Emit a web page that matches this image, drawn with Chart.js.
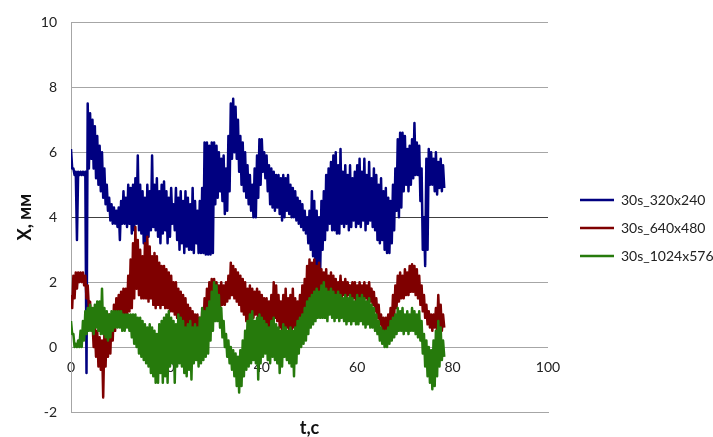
<!DOCTYPE html>
<html>
<head>
<meta charset="utf-8">
<script src="https://cdn.jsdelivr.net/npm/chart.js@4.4.1/dist/chart.umd.min.js"></script>
<style>
  html, body { margin: 0; padding: 0; background: #fff; }
  #wrap { width: 713px; height: 437px; }
</style>
</head>
<body>
<div id="wrap"><canvas id="chart" width="713" height="437"></canvas></div>
<script>
// each series: upper and lower swing of the noisy trace every 0.5 s
const STEP = 0.5;
const seriesNames = ['30s_320x240', '30s_640x480', '30s_1024x576'];
const seriesColors = ['#000080', '#7f0000', '#267a0c'];

const blueHi = [
  6.1, 5.5, 5.4, 5.4, 5.4, 5.4, 5.4, 7.5, 7.2, 7.0,
  6.8, 6.5, 6.2, 6.0, 5.5, 5.0, 4.6, 4.4, 4.3, 4.2,
  4.3, 4.5, 4.8, 4.6, 5.0, 4.9, 5.0, 5.2, 5.9, 5.0,
  4.8, 4.6, 5.0, 4.8, 5.9, 5.0, 5.2, 4.8, 5.0, 5.1,
  4.8, 4.6, 4.9, 4.4, 4.9, 4.6, 4.8, 4.5, 4.8, 4.6,
  4.4, 4.9, 4.5, 4.2, 4.5, 4.9, 6.3, 6.3, 6.2, 6.3,
  6.3, 6.2, 6.0, 5.8, 5.9, 5.5, 6.5, 7.5, 7.65, 7.4,
  7.0, 6.5, 6.3, 6.0, 5.6, 5.3, 5.0, 5.5, 5.9, 6.4,
  6.4, 6.0, 5.9, 5.6, 5.5, 5.4, 5.3, 5.3, 5.2, 5.3,
  5.2, 5.3, 5.0, 4.9, 4.8, 4.6, 4.5, 4.4, 4.2, 4.0,
  4.2, 4.8, 4.5, 4.2, 4.0, 4.5, 4.8, 5.3, 5.5, 5.7,
  5.9, 6.0, 5.6, 6.1, 5.4, 5.6, 5.3, 5.6, 5.2, 5.4,
  5.6, 5.8, 5.4, 5.8, 5.3, 5.7, 5.2, 5.5, 5.3, 5.0,
  5.2, 4.8, 4.9, 4.6, 4.5, 5.0, 5.5, 6.4, 6.6, 6.6,
  6.5, 6.1, 6.2, 6.4, 6.9, 6.3, 6.2, 5.5, 4.0, 5.8,
  6.1, 6.0, 5.8, 6.0, 5.7, 5.8, 5.6
];
const blueLo = [
  5.5, 5.3, 3.3, 5.3, 5.3, 5.3, -0.8, 5.5, 5.8, 5.5,
  5.2, 5.0, 4.8, 4.6, 4.4, 4.2, 3.9, 3.8, 3.8, 3.7,
  3.3, 3.8, 3.8, 3.7, 3.8, 3.5, 3.6, 3.8, 3.6, 3.5,
  3.2, 2.8, 3.4, 3.6, 3.7, 3.6, 3.4, 3.2, 3.5, 3.6,
  3.2, 3.4, 3.8, 3.6, 3.3, 3.0, 3.2, 2.9, 3.1, 3.0,
  3.0, 2.9, 3.2, 2.9, 2.9, 2.9, 2.85, 2.85, 2.85, 2.9,
  4.4, 4.6, 4.8, 4.5, 4.1, 4.2, 4.8, 5.8, 6.0, 5.8,
  5.4, 5.0, 4.8, 4.6, 4.4, 4.2, 4.0, 4.0, 4.6, 5.0,
  5.4, 5.2, 4.8, 4.4, 4.3, 4.2, 4.3, 4.1, 3.9, 4.0,
  4.2, 4.1, 4.0, 4.0, 3.9, 3.8, 3.7, 3.6, 3.5, 3.2,
  3.0, 2.8, 2.5, 2.3, 2.4, 3.0, 3.3, 3.6, 3.8, 3.6,
  3.6, 3.5, 3.5, 3.8, 3.7, 3.8, 3.6, 3.7, 3.9, 3.7,
  3.8, 3.7, 3.9, 3.6, 3.8, 3.9, 3.7, 3.6, 3.3, 3.2,
  3.3, 3.0, 2.9, 2.9, 3.2, 3.6, 4.2, 4.0, 4.3, 4.8,
  5.0, 4.8, 5.0, 5.2, 5.3, 5.3, 4.5, 3.0, 2.5, 3.0,
  5.0, 5.0, 4.8, 4.7, 4.9, 4.8, 4.9
];

const redHi = [
  1.6, 2.2, 2.3, 2.3, 2.3, 2.3, 2.2, 1.9, 1.4, 0.8,
  0.6, 0.5, 0.3, 0.2, 0.4, 0.8, 1.0, 1.0, 1.3, 1.5,
  1.6, 1.7, 1.8, 1.8, 2.2, 2.7, 3.2, 3.7, 3.3, 3.0,
  2.8, 3.2, 3.4, 3.1, 2.8, 2.9, 2.8, 2.6, 2.5, 2.5,
  2.4, 2.3, 2.2, 2.0, 2.0, 1.8, 1.7, 1.6, 1.5, 1.3,
  1.2, 1.1, 1.0, 1.0, 0.9, 1.1, 1.5, 1.8, 2.0, 2.1,
  2.1, 2.0, 1.9, 2.0, 1.9, 2.0, 2.2, 2.6, 2.5, 2.4,
  2.3, 2.2, 2.1, 2.0, 1.8, 1.9, 1.8, 1.7, 1.8, 1.7,
  1.6, 1.5, 1.5, 1.4, 1.6, 2.0, 1.9, 1.6, 1.4, 1.6,
  1.8, 1.5, 1.6, 1.8, 1.5, 1.4, 1.6, 1.9, 2.1, 2.5,
  2.7, 2.6, 2.7, 2.5, 2.6, 2.4, 2.3, 2.4, 2.2, 2.3,
  2.2, 2.1, 2.0, 2.2, 2.0, 2.1, 2.0, 1.9, 2.0, 2.0,
  1.9, 2.0, 1.9, 2.0, 1.9, 2.0, 1.8, 1.7, 1.5, 1.3,
  1.0, 0.9, 0.9, 1.0, 1.2, 1.6, 1.9, 2.2, 2.3, 2.2,
  2.4, 2.3, 2.5, 2.55, 2.5, 2.4, 2.2, 1.9, 1.6, 1.3,
  1.1, 1.0, 1.0, 1.2, 1.6, 1.3, 1.0
];
const redLo = [
  1.2, 1.5, 1.8, 2.0, 2.0, 1.9, 1.5, 1.2, 0.6, 0.0,
  -0.3, -0.6, -0.7, -1.55, -0.6, -0.3, -0.2, 0.2, 0.5, 0.8,
  0.8, 0.9, 0.9, 1.0, 1.1, 1.2, 1.5, 1.8, 1.6, 1.5,
  1.5, 1.5, 1.4, 1.5, 1.3, 1.2, 1.3, 1.2, 1.3, 1.2,
  1.2, 1.1, 1.1, 1.0, 0.9, 0.9, 0.7, 0.6, 0.5, 0.5,
  0.4, 0.3, 0.3, 0.3, 0.3, 0.4, 0.6, 0.9, 1.2, 1.3,
  1.4, 1.3, 1.2, 1.3, 1.3, 1.4, 1.5, 1.6, 1.5, 1.4,
  1.3, 1.1, 1.0, 0.8, 0.7, 0.6, 0.9, 1.0, 0.9, 0.8,
  0.8, 0.7, 0.6, 0.6, 0.7, 0.9, 0.8, 0.6, 0.5, 0.5,
  0.6, 0.5, 0.4, 0.6, 0.5, 0.6, 0.7, 0.9, 1.1, 1.3,
  1.4, 1.5, 1.5, 1.4, 1.5, 1.4, 1.4, 1.3, 1.3, 1.4,
  1.3, 1.4, 1.5, 1.5, 1.6, 1.5, 1.6, 1.5, 1.5, 1.4,
  1.4, 1.5, 1.4, 1.5, 1.4, 1.4, 1.3, 1.1, 0.9, 0.7,
  0.5, 0.4, 0.4, 0.5, 0.6, 0.9, 1.2, 1.4, 1.5, 1.5,
  1.6, 1.6, 1.7, 1.7, 1.6, 1.5, 1.3, 1.1, 0.9, 0.7,
  0.6, 0.5, 0.6, 0.5, 0.6, 0.5, 0.6
];

const greenHi = [
  0.8, 0.4, 0.1, 0.2, 0.5, 0.8, 1.1, 1.2, 1.3, 1.2,
  1.3, 1.4, 1.4, 1.8, 1.2, 1.1, 1.0, 1.1, 1.1, 1.1,
  1.1, 1.1, 1.0, 1.0, 1.0, 1.0, 1.0, 1.0, 0.9, 0.9,
  0.8, 0.7, 0.6, 0.7, 0.6, 0.5, 0.4, 0.7, 0.8, 0.9,
  1.0, 1.1, 0.9, 0.8, 0.7, 1.0, 0.9, 0.8, 0.6, 0.7,
  0.8, 0.6, 0.7, 0.6, 0.9, 1.2, 1.1, 1.2, 1.4, 1.7,
  2.0, 1.9, 1.6, 1.2, 0.8, 0.4, 0.2, 0.0, -0.1, -0.2,
  -0.3, -0.1, 0.2, 0.5, 0.8, 1.0, 1.1, 0.8, 0.9, 1.0,
  0.9, 0.8, 0.7, 0.6, 0.8, 0.9, 0.7, 0.6, 0.5, 0.7,
  0.6, 0.5, 0.6, 0.5, 0.6, 0.8, 0.9, 1.0, 1.2, 1.4,
  1.5, 1.6, 1.7, 1.8, 1.7, 1.9, 2.0, 1.8, 1.7, 1.8,
  1.7, 1.6, 1.7, 1.6, 1.5, 1.6, 1.5, 1.6, 1.5, 1.4,
  1.6, 1.5, 1.6, 1.5, 1.4, 1.5, 1.3, 1.2, 1.0, 0.8,
  0.6, 0.5, 0.5, 0.6, 0.8, 0.9, 1.0, 1.2, 1.1, 1.2,
  1.0, 1.1, 1.0, 1.2, 1.1, 1.0, 1.1, 0.8, 0.4, 0.2,
  0.0, -0.1, 0.2, 0.5, 0.8, 0.6, 0.2
];
const greenLo = [
  0.4, 0.0, 0.0, 0.0, 0.0, 0.2, 0.4, 0.5, 0.5, 0.4,
  0.6, 0.5, 0.4, 0.4, 0.3, 0.2, 0.3, 0.5, 0.6, 0.6,
  0.6, 0.5, 0.5, 0.6, 0.5, 0.3, 0.1, 0.0, -0.2, -0.3,
  -0.4, -0.5, -0.6, -0.8, -0.9, -1.1, -1.1, -0.8, -1.1, -0.9,
  -1.1, -0.6, -0.5, -1.1, -0.6, -0.5, -0.6, -0.8, -0.9, -0.7,
  -1.0, -0.5, -0.4, -0.6, -0.5, -0.4, -0.3, -0.2, 0.2, 0.5,
  0.8, 0.8, 0.6, 0.3, 0.0, -0.3, -0.5, -0.7, -0.9, -1.2,
  -1.4, -1.2, -0.9, -0.7, -0.6, -0.5, -0.4, -0.5, -1.0, -0.5,
  -0.3, -0.2, -0.4, -0.5, -0.3, -0.4, -0.5, -0.8, -0.6, -0.3,
  -0.4, -0.5, -0.6, -0.9, -0.5, -0.2, 0.0, 0.1, 0.2, 0.4,
  0.6, 0.7, 0.8, 0.9, 0.9, 0.9, 0.9, 0.8, 1.0, 0.9,
  0.8, 0.9, 0.8, 0.9, 0.8, 0.7, 0.8, 0.7, 0.8, 0.7,
  0.7, 0.8, 0.7, 0.6, 0.7, 0.6, 0.6, 0.5, 0.4, 0.2,
  0.1, 0.0, 0.0, 0.1, 0.2, 0.3, 0.4, 0.5, 0.5, 0.4,
  0.5, 0.4, 0.5, 0.5, 0.4, 0.3, 0.2, -0.2, -0.6, -0.9,
  -1.1, -1.3, -1.2, -0.9, -0.6, -0.4, -0.3
];

const xTicks = [0, 20, 40, 60, 80, 100];
const yTicks = [-2, 0, 2, 4, 6, 8, 10];

// trace swings from the upper to the lower value inside each 0.5 s sample
function swing(hi, lo) {
  const pts = [];
  hi.forEach((v, i) => {
    pts.push({ x: i * STEP, y: v });
    pts.push({ x: i * STEP + STEP / 2, y: lo[i] });
  });
  return pts;
}

const font = 'Lato';
const traces = [[blueHi, blueLo], [redHi, redLo], [greenHi, greenLo]];

const datasets = traces.map((t, i) => ({
  label: seriesNames[i],
  data: swing(t[0], t[1]),
  borderColor: seriesColors[i],
  backgroundColor: seriesColors[i],
  borderWidth: 2.5,
  borderJoinStyle: 'round',
  pointRadius: 0,
  tension: 0,
  order: 3 - i
}));

new Chart(document.getElementById('chart'), {
  type: 'line',
  data: { datasets: datasets },
  options: {
    responsive: false,
    animation: false,
    events: [],
    layout: { padding: { top: 15, right: 0, bottom: 0, left: 0 } },
    plugins: {
      tooltip: { enabled: false },
      legend: {
        position: 'right',
        fullSize: true,
        maxWidth: 147,
        title: { display: true, text: '', padding: { top: 1, bottom: 2 }, font: { size: 1, lineHeight: 1 } },
        labels: {
          usePointStyle: true,
          pointStyle: 'line',
          pointStyleWidth: 34,
          padding: 14,
          color: '#222',
          font: { family: font, size: 14 },
          sort: (a, b) => a.datasetIndex - b.datasetIndex
        }
      }
    },
    scales: {
      x: {
        type: 'linear',
        min: 0, max: 100,
        grid: { display: false },
        border: { display: true, color: '#a6a6a6' },
        ticks: { display: false },
        title: {
          display: true, text: 't,c', color: '#111',
          font: { family: font, size: 18, weight: 'bold', lineHeight: 1 },
          padding: { top: 7, bottom: 0 }
        },
        afterFit: s => { s.height = 25; }
      },
      xLabels: {
        type: 'linear',
        position: { y: 0 },
        min: 0, max: 100,
        afterBuildTicks: s => { s.ticks = xTicks.map(v => ({ value: v })); },
        grid: { display: false, drawTicks: false },
        border: { display: false },
        ticks: { color: '#222', font: { family: font, size: 14 }, padding: 12 }
      },
      y: {
        min: -2, max: 10,
        afterBuildTicks: s => { s.ticks = yTicks.map(v => ({ value: v })); },
        grid: {
          drawTicks: false,
          color: c => (c.tick && c.tick.value === 4) ? '#404040' : '#a6a6a6'
        },
        border: { display: true, color: '#a6a6a6' },
        ticks: { color: '#222', font: { family: font, size: 14 }, padding: 14 },
        title: {
          display: true, text: 'X, мм', color: '#111',
          font: { family: font, size: 18, weight: 'bold', lineHeight: 1 },
          padding: { top: 16, bottom: 0 }
        },
        afterFit: s => { s.width = 71; }
      },
      gap: {
        position: 'right',
        min: 0, max: 1,
        grid: { display: false },
        border: { display: false },
        ticks: { display: false },
        afterFit: s => { s.width = 18; }
      }
    }
  }
});
</script>
</body>
</html>
